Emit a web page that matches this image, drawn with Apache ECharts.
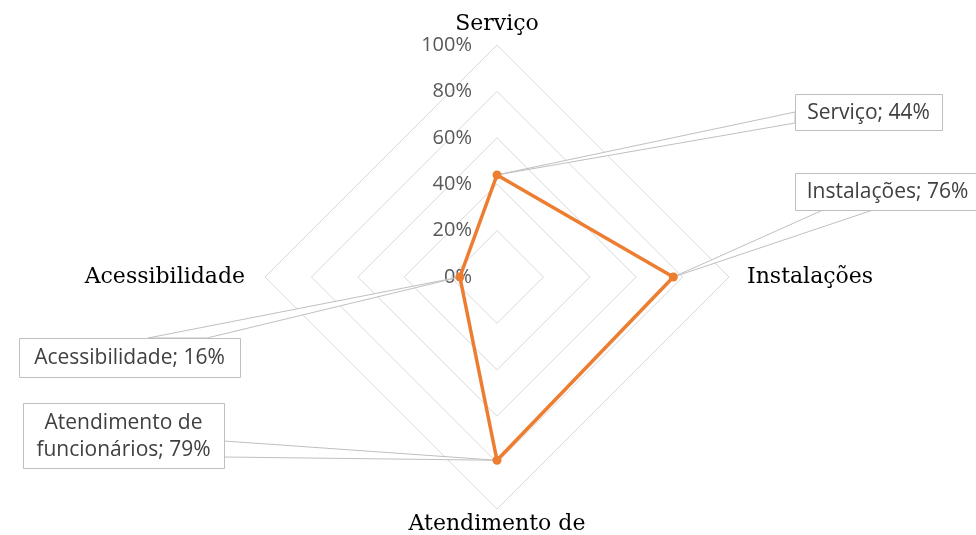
<!DOCTYPE html>
<html><head><meta charset="utf-8">
<script src="https://cdn.jsdelivr.net/npm/echarts@6/dist/echarts.min.js"></script>
<style>html,body{margin:0;padding:0;background:#fff}#c{width:976px;height:535px}</style>
</head><body><div id="c"></div>
<script>
// ---- data ----
const categories = ['Serviço', 'Instalações', 'Atendimento de funcionários', 'Acessibilidade'];
const values = [44, 76, 79, 16];
const tickLabels = ['0%', '20%', '40%', '60%', '80%', '100%'];
const axisMin = 0;
const axisMax = 100;

// ECharts places indicators counter-clockwise from the top; reorder so the
// display runs clockwise: top, right, bottom, left.
const order = [0, 3, 2, 1];

// label box layout (positions only)
const boxes = [
  {x: 795, y: 94, w: 147, h: 36, a1: [795, 112], a2: [795, 123]},
  {x: 795, y: 173, w: 185, h: 37, a1: [823, 210], a2: [873, 210]},
  {x: 23, y: 403, w: 201, h: 65, a1: [224, 441], a2: [224, 457]},
  {x: 19, y: 338, w: 221, h: 39, a1: [148, 338], a2: [207, 338]}
];

const chart = echarts.init(document.getElementById('c'));

function displayName(n) { return n.replace(' de ', ' de\n'); }

const nameFont = {fontFamily: 'DejaVu Serif', fontSize: 22, color: '#000'};

chart.setOption({
  animation: false,
  backgroundColor: '#fff',
  radar: {
    center: [497, 277],
    radius: 232,
    startAngle: 90,
    shape: 'polygon',
    splitNumber: 5,
    nameGap: 2,
    indicator: order.map((k, i) => ({
      name: categories[k], min: axisMin, max: axisMax,
      axisLabel: i === 0 ? {show: true} : {show: false}
    })),
    axisName: {
      color: '#000',
      fontFamily: 'DejaVu Serif',
      fontSize: 22,
      formatter: function (name) {
        if (name === 'Instalações') return '{r|' + name + '}';
        if (name === 'Acessibilidade') return '{l|' + name + '}';
        if (name.indexOf(' de ') > 0) {
          return displayName(name).split('\n').map(s => '{b|' + s + '}').join('\n');
        }
        return '{t|' + name + '}';
      },
      rich: {
        t: Object.assign({lineHeight: 14}, nameFont),
        r: Object.assign({padding: [0, 0, 0, 16]}, nameFont),
        l: Object.assign({padding: [0, 18, 0, 0]}, nameFont),
        b: Object.assign({lineHeight: 26}, nameFont)
      }
    },
    splitLine: {lineStyle: {color: '#d9d9d9', width: 1}},
    splitArea: {show: false},
    axisLine: {show: false},
    axisTick: {show: false},
    axisLabel: {
      show: false,
      color: '#595959',
      fontFamily: 'Open Sans',
      fontSize: 20,
      margin: 25,
      formatter: function (v) { return tickLabels[Math.round((v - axisMin) / (axisMax - axisMin) * 5)]; }
    }
  },
  series: [{
    type: 'radar',
    z: 5,
    symbol: 'circle',
    symbolSize: 9,
    lineStyle: {color: '#ED7D31', width: 3.5},
    itemStyle: {color: '#ED7D31'},
    label: {show: false},
    data: [{name: 'Série', value: order.map(k => values[k])}]
  }]
});

// ---- callout labels with leader wedges ----
const pts = chart.getModel().getSeriesByIndex(0).getData().getItemLayout(0);
const graphics = [];
categories.forEach(function (cat, k) {
  const p = pts[order.indexOf(k)];
  const b = boxes[k];
  graphics.push({
    type: 'polygon', z: 1, silent: true,
    shape: {points: [p, b.a1, b.a2]},
    style: {fill: '#fff', stroke: '#c0c0c0', lineWidth: 1}
  });
  graphics.push({
    type: 'rect', z: 3, silent: true,
    shape: {x: b.x + 0.5, y: b.y + 0.5, width: b.w, height: b.h},
    style: {fill: '#fff', stroke: '#bfbfbf', lineWidth: 1}
  });
  graphics.push({
    type: 'text', z: 4, silent: true,
    x: b.x + b.w / 2, y: b.y + b.h / 2 + 1,
    style: {
      text: displayName(cat) + '; ' + values[k] + '%',
      fill: '#404040', fontFamily: 'Open Sans', fontSize: 21,
      align: 'center', verticalAlign: 'middle', lineHeight: 27
    }
  });
});
chart.setOption({graphic: graphics});
</script>
</body></html>
